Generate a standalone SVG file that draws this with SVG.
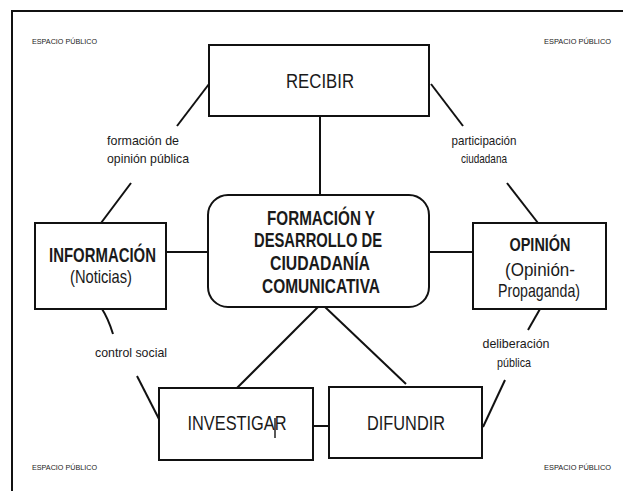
<svg xmlns="http://www.w3.org/2000/svg" width="623" height="491" viewBox="0 0 623 491">
<style>
.box{fill:#fff;stroke:#111;stroke-width:2}
.ln{fill:none;stroke:#111;stroke-width:2}
text{font-family:"Liberation Sans",Arial,sans-serif;fill:#1a1a1a;text-anchor:middle}
.b{font-weight:bold}
.t{font-size:20px}
.s{font-size:19px}
.l{font-size:13px}
.e{font-size:7px;text-anchor:start}
</style>
<rect width="623" height="491" fill="#fff"/>
<g id="frame"><path class="ln" d="M12,491 V11 H623"/></g>
<g id="labels-espacio">
<text class="e" x="32" y="44" textLength="65" lengthAdjust="spacingAndGlyphs">ESPACIO PÚBLICO</text>
<text class="e" x="544" y="44" textLength="67" lengthAdjust="spacingAndGlyphs">ESPACIO PÚBLICO</text>
<text class="e" x="32" y="470" textLength="65" lengthAdjust="spacingAndGlyphs">ESPACIO PÚBLICO</text>
<text class="e" x="544" y="470" textLength="67" lengthAdjust="spacingAndGlyphs">ESPACIO PÚBLICO</text>
</g>
<g id="connectors">
<path class="ln" d="M320,116 V195"/>
<path class="ln" d="M166,252 H208"/>
<path class="ln" d="M429,252 H473"/>
<path class="ln" d="M318,307 L236,389"/>
<path class="ln" d="M325,307 L406,384"/>
<path class="ln" d="M313,426 H329"/>
<path class="ln" d="M209,84 L177,126"/>
<path class="ln" d="M131,183 L101,223"/>
<path class="ln" d="M431,84 L463,126"/>
<path class="ln" d="M507,183 L538,223"/>
<path class="ln" d="M102,309 Q108,318 113,334"/>
<path class="ln" d="M137,376 L160,421"/>
<path class="ln" d="M540,309 L528,330"/>
<path class="ln" d="M505,380 L483,427"/>
</g>
<g id="edge-labels">
<text class="l" x="143" y="145" textLength="72" lengthAdjust="spacingAndGlyphs">formación de</text>
<text class="l" x="148" y="163" textLength="82" lengthAdjust="spacingAndGlyphs">opinión pública</text>
<text class="l" x="484" y="145" textLength="65" lengthAdjust="spacingAndGlyphs">participación</text>
<text class="l" x="484" y="163" textLength="46" lengthAdjust="spacingAndGlyphs">ciudadana</text>
<text class="l" x="131" y="357" textLength="72" lengthAdjust="spacingAndGlyphs">control social</text>
<text class="l" x="516" y="348" textLength="67" lengthAdjust="spacingAndGlyphs">deliberación</text>
<text class="l" x="514" y="367" textLength="34" lengthAdjust="spacingAndGlyphs">pública</text>
</g>
<g id="recibir">
<rect class="box" x="209" y="45" width="220" height="71"/>
<text class="t" x="320" y="88" textLength="68" lengthAdjust="spacingAndGlyphs">RECIBIR</text>
</g>
<g id="central">
<rect class="box" x="208" y="195" width="221" height="112" rx="20"/>
<text class="t b" x="321" y="225" textLength="108" lengthAdjust="spacingAndGlyphs">FORMACIÓN Y</text>
<text class="t b" x="318" y="247" textLength="128" lengthAdjust="spacingAndGlyphs">DESARROLLO DE</text>
<text class="t b" x="320" y="270" textLength="100" lengthAdjust="spacingAndGlyphs">CIUDADANÍA</text>
<text class="t b" x="321" y="293" textLength="118" lengthAdjust="spacingAndGlyphs">COMUNICATIVA</text>
</g>
<g id="informacion">
<rect class="box" x="35" y="223" width="131" height="86"/>
<text class="t b" x="102.5" y="262" textLength="107" lengthAdjust="spacingAndGlyphs">INFORMACIÓN</text>
<text class="s" x="101" y="283" textLength="62" lengthAdjust="spacingAndGlyphs">(Noticias)</text>
</g>
<g id="opinion">
<rect class="box" x="473" y="223" width="133" height="86"/>
<text class="s b" x="540" y="251" textLength="61" lengthAdjust="spacingAndGlyphs">OPINIÓN</text>
<text class="s" x="540" y="276" textLength="70" lengthAdjust="spacingAndGlyphs">(Opinión-</text>
<text class="s" x="539" y="297" textLength="82" lengthAdjust="spacingAndGlyphs">Propaganda)</text>
</g>
<g id="investigar">
<rect class="box" x="159" y="388" width="154" height="72"/>
<text class="t" x="237" y="430" textLength="99" lengthAdjust="spacingAndGlyphs">INVESTIGAR</text>
<path d="M275,418 V438" stroke="#222" stroke-width="1.5"/>
</g>
<g id="difundir">
<rect class="box" x="329" y="387" width="153" height="71"/>
<text class="t" x="406" y="430" textLength="78" lengthAdjust="spacingAndGlyphs">DIFUNDIR</text>
</g>
</svg>
